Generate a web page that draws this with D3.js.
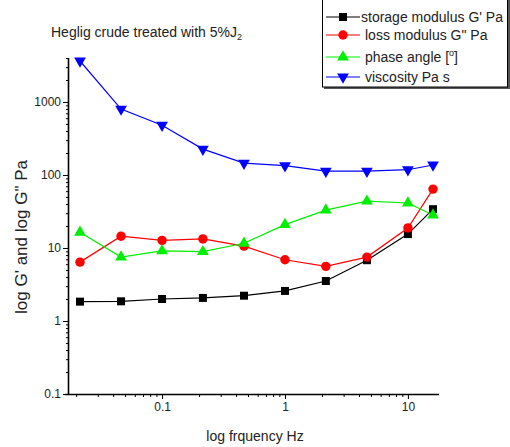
<!DOCTYPE html>
<html>
<head>
<meta charset="utf-8">
<script src="https://cdn.jsdelivr.net/npm/d3@7"></script>
<style>
  body { margin: 0; background: #fff; }
  svg { font-family: Arial, "Liberation Sans", sans-serif; }
</style>
</head>
<body>
<div id="chart"></div>
<script>
// frequencies (Hz)
const freq = [0.0215, 0.0464, 0.1, 0.215, 0.464, 1, 2.15, 4.64, 10, 16];
// series values
const storage = [1.84, 1.86, 2.0, 2.07, 2.22, 2.58, 3.53, 6.8, 15.5, 34];
const loss = [6.4, 14.5, 12.7, 13.3, 10.6, 6.9, 5.6, 7.5, 18.8, 64];
const phase = [16.4, 7.5, 9.1, 8.9, 11.6, 20.9, 33, 43.7, 41.3, 28.3];
const viscosity = [3640, 800, 480, 226, 145, 134, 113, 113, 118, 137];

const xMajor = [0.1, 1, 10];
const yMajor = [0.1, 1, 10, 100, 1000];

const width = 510, height = 447;

const svg = d3.select("#chart").append("svg")
  .attr("width", width).attr("height", height);

const x = d3.scaleLog().domain([0.0175, 17.9]).range([69, 439]);
const y = d3.scaleLog().domain([0.1, 4000]).range([394, 58]);

// minor tick values
function minors(lo, hi) {
  let out = [];
  for (let e = -3; e <= 4; e++) {
    for (let m = 2; m <= 9; m++) {
      let v = m * Math.pow(10, e);
      if (v >= lo && v <= hi) out.push(v);
    }
  }
  return out;
}

// x axis
svg.append("g")
  .attr("transform", "translate(0,394)")
  .call(d3.axisBottom(x).tickValues(minors(0.0175, 17.9)).tickSize(3).tickSizeOuter(0).tickFormat(""))
  .call(g => g.select(".domain").remove());
svg.append("g")
  .attr("class", "xaxis")
  .attr("transform", "translate(0,394)")
  .call(d3.axisBottom(x).tickValues(xMajor).tickSize(5).tickSizeOuter(0).tickFormat(d3.format("")))
  .call(g => g.select(".domain").attr("d", "M65,0.5H439"));

// y axis
svg.append("g")
  .attr("transform", "translate(69,0)")
  .call(d3.axisLeft(y).tickValues(minors(0.1, 4000)).tickSize(3).tickSizeOuter(0).tickFormat(""))
  .call(g => g.select(".domain").remove());
svg.append("g")
  .attr("class", "yaxis")
  .attr("transform", "translate(69,0)")
  .call(d3.axisLeft(y).tickValues(yMajor).tickSize(6).tickSizeOuter(0).tickFormat(d3.format("")))
  .call(g => g.select(".domain").attr("d", "M-0.5,58V394"));

svg.selectAll(".domain").attr("stroke", "#000").attr("stroke-width", 1.6);
svg.selectAll(".tick line").attr("stroke", "#000");
svg.selectAll(".tick text").attr("font-size", 12).attr("fill", "#222")
  .attr("font-family", "Arial, 'Liberation Sans', sans-serif");
svg.selectAll(".yaxis .tick text").attr("x", -8);

// axis titles
svg.append("text")
  .attr("x", 255).attr("y", 441)
  .attr("text-anchor", "middle").attr("font-size", 14).attr("fill", "#222")
  .text("log frquency Hz");
svg.append("text")
  .attr("transform", "translate(27,237) rotate(-90)")
  .attr("text-anchor", "middle").attr("font-size", 17).attr("fill", "#222")
  .text("log G' and log G\" Pa");

// title
const title = svg.append("text")
  .attr("x", 51).attr("y", 37).attr("font-size", 14).attr("fill", "#222");
title.append("tspan").text("Heglig crude treated with 5%J");
title.append("tspan").attr("font-size", 9).attr("dy", 3).text("2");

const series = [
  { name: "storage modulus G' Pa", values: storage, color: "#000000", shape: d3.symbolSquare, size: 64, rot: 0 },
  { name: "loss modulus G\" Pa", values: loss, color: "#ff0000", shape: d3.symbolCircle, size: 70, rot: 0 },
  { name: "phase angle [", values: phase, color: "#00ee00", shape: d3.symbolTriangle, size: 60, rot: 0 },
  { name: "viscosity Pa s", values: viscosity, color: "#0000ff", shape: d3.symbolTriangle, size: 60, rot: 180 }
];

const line = d3.line().x(d => x(d[0])).y(d => y(d[1]));

series.forEach(s => {
  const pts = freq.map((f, i) => [f, s.values[i]]);
  svg.append("path")
    .datum(pts)
    .attr("fill", "none")
    .attr("stroke", s.color)
    .attr("stroke-width", 1.2)
    .attr("d", line);
  svg.selectAll(null)
    .data(pts)
    .enter().append("path")
    .attr("d", d3.symbol().type(s.shape).size(s.size))
    .attr("transform", d => `translate(${x(d[0])},${y(d[1])}) rotate(${s.rot})`)
    .attr("fill", s.color);
});

// legend
const lg = svg.append("g");
lg.append("rect").attr("x", 324).attr("y", -5).attr("width", 186).attr("height", 94).attr("fill", "#555");
lg.append("rect").attr("x", 322.5).attr("y", -5).attr("width", 185).attr("height", 92)
  .attr("fill", "#fff").attr("stroke", "#000").attr("stroke-width", 1);

const rowY = [17, 35, 57, 77];
series.forEach((s, i) => {
  const ry = rowY[i];
  lg.append("line").attr("x1", 326).attr("x2", 360).attr("y1", ry).attr("y2", ry)
    .attr("stroke", s.color).attr("stroke-width", 1.2);
  lg.append("path")
    .attr("d", d3.symbol().type(s.shape).size(s.size))
    .attr("transform", `translate(343,${ry}) rotate(${s.rot})`)
    .attr("fill", s.color);
  const t = lg.append("text")
    .attr("x", i === 0 ? 361 : 365).attr("y", ry + 5)
    .attr("font-size", 14).attr("fill", "#222");
  t.append("tspan").text(s.name);
  if (i === 2) {
    t.append("tspan").attr("font-size", 9).attr("dy", -6).text("o");
    t.append("tspan").attr("dy", 6).text("]");
  }
});
</script>
</body>
</html>
